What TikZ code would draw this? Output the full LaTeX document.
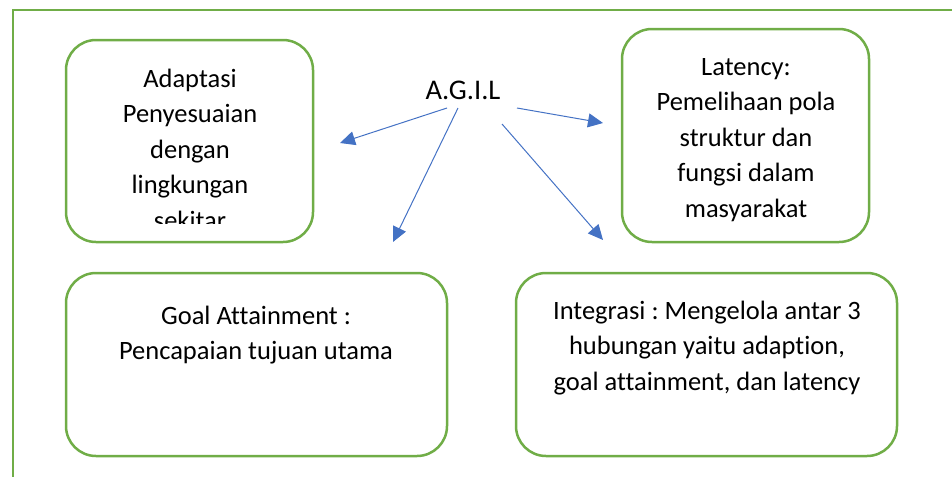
\documentclass[tikz,border=0pt]{standalone}
\usepackage{fontspec}
\setmainfont{Carlito}[Ligatures=NoCommon]
\frenchspacing
\usetikzlibrary{arrows.meta,positioning}
\definecolor{boxgreen}{HTML}{70AD47}
\definecolor{arrowblue}{HTML}{4472C4}

\tikzset{
  agilbox/.style={draw=boxgreen,line width=2.5pt,rounded corners=30pt,inner sep=0pt},
  agiltext/.style={align=center,font=\fontsize{26.5}{35.5}\selectfont,inner sep=0pt},
  agilarrow/.style={-{Triangle[length=15pt,width=14pt]},draw=arrowblue,line width=1pt}
}

\begin{document}
\begin{tikzpicture}[x=1pt,y=-1pt]
    \useasboundingbox (0,0) rectangle (952,477);

    % outer frame
    \draw[boxgreen,line width=2pt] (952,10) -- (13,10) -- (13,477);

    % the four boxes
    \node[agilbox,minimum width=247pt,minimum height=202pt] (adapt) at (189.5,141) {};
    \node[agilbox,minimum width=247pt,minimum height=213pt] (laten) at (745.5,135.5) {};
    \node[agilbox,minimum width=381pt,minimum height=183pt] (goal) at (256.5,364.5) {};
    \node[agilbox,minimum width=381pt,minimum height=183pt] (integ) at (706.5,364.5) {};

    % texts
    \begin{scope}
      \clip (66,40) rectangle (313,223);
      \node[agiltext] (adapttxt) at (190,149) {Adaptasi\\Penyesuaian\\dengan\\lingkungan\\sekitar};
    \end{scope}
    \node[agiltext] (latentxt) at (746,140) {Latency:\\Pemelihaan pola\\struktur dan\\fungsi dalam\\masyarakat};
    \node[agiltext] (goaltxt) at (256,335) {Goal Attainment :\\Pencapaian tujuan utama};
    \node[agiltext] (integtxt) at (707,348) {Integrasi : Mengelola antar 3\\hubungan yaitu adaption,\\goal attainment, dan latency};

    \node[agiltext,font=\fontsize{28.5}{30}\selectfont] (agil) at (463,90) {A.G.I.L};

    % arrows
    \coordinate (s1) at (447,108);
    \coordinate (s2) at (458,108);
    \coordinate (s3) at (502,124);
    \coordinate (s4) at (517,108);
    \coordinate (e1) at (340,143);
    \coordinate (e2) at (393,242);
    \coordinate (e3) at (603,240);
    \coordinate (e4) at (603,123);

    \draw[agilarrow] (s1) -- (e1);
    \draw[agilarrow] (s2) -- (e2);
    \draw[agilarrow] (s3) -- (e3);
    \draw[agilarrow] (s4) -- (e4);

\end{tikzpicture}
\end{document}
